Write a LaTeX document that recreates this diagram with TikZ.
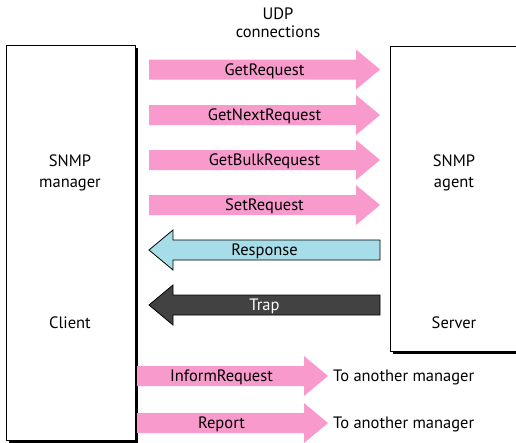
\documentclass[tikz,border=0pt]{standalone}
\usepackage{fontspec}
\setmainfont{PT Sans}
\definecolor{reqpink}{RGB}{248,154,204}
\definecolor{resblue}{RGB}{166,221,233}
\definecolor{trapgray}{RGB}{66,66,66}
\tikzset{
  hostbox/.style = {draw, line width=1pt, fill=white},
  hostshadow/.style = {fill=black},
  msg/.style = {font=\fontsize{16.5}{18}\selectfont, inner sep=0pt,
                text height=11.5pt, text depth=0pt},
  boxtext/.style = {font=\fontsize{16.5}{21}\selectfont, align=center, inner sep=0pt}
}
% block arrow: from x1 to x2 (tip) at height y
\newcommand{\rblock}[4]{%
  \fill[#4] (#1,#3-10) -- (#2-24,#3-10) -- (#2-24,#3-20) -- (#2,#3)
    -- (#2-24,#3+20) -- (#2-24,#3+10) -- (#1,#3+10) -- cycle;}
\newcommand{\lblock}[4]{%
  \filldraw[#4] (#1,#3-10) -- (#2+24,#3-10) -- (#2+24,#3-20) -- (#2,#3)
    -- (#2+24,#3+20) -- (#2+24,#3+10) -- (#1,#3+10) -- cycle;}
\begin{document}
\begin{tikzpicture}[x=1pt, y=-1pt]
  \useasboundingbox (0,0) rectangle (516,442);
  % hosts
  \fill[hostshadow] (9,48) rectangle (138,443);
  \draw[hostbox] (6,45) rectangle (135,440);
  \fill[hostshadow] (393,49) rectangle (520,354);
  \draw[hostbox] (390,46) rectangle (520,351);
  \node[boxtext] (manager) at (70,173) {SNMP\\manager};
  \node[boxtext] (client) at (70,323) {Client};
  \node[boxtext] (agent) at (454,173) {SNMP\\agent};
  \node[boxtext] (server) at (454,323) {Server};
  \node[boxtext, font=\fontsize{16.5}{18}\selectfont] (udp) at (278,23) {UDP\\connections};
  % requests
  \foreach \y/\name/\txt in {69.5/getreq/GetRequest, 115/getnext/GetNextRequest,
                              160/getbulk/GetBulkRequest, 205/setreq/SetRequest} {
    \rblock{149}{380}{\y}{reqpink}
    \node[msg] (\name) at (264.5,\y) {\txt};
  }
  % replies
  \lblock{380}{149}{250}{draw=black, line width=0.8pt, fill=resblue}
  \node[msg] (response) at (264.5,250) {Response};
  \lblock{380}{149}{305}{draw=black, line width=0.8pt, fill=trapgray}
  \node[msg, text=white] (trap) at (264.5,305) {Trap};
  % manager to manager
  \rblock{137}{328}{376}{reqpink}
  \node[msg] (inform) at (221.5,376) {InformRequest};
  \node[msg, anchor=west] (other1) at (333,376) {To another manager};
  \rblock{137}{328}{423}{reqpink}
  \node[msg] (report) at (221.5,423) {Report};
  \node[msg, anchor=west] (other2) at (333,423) {To another manager};
\end{tikzpicture}
\end{document}
